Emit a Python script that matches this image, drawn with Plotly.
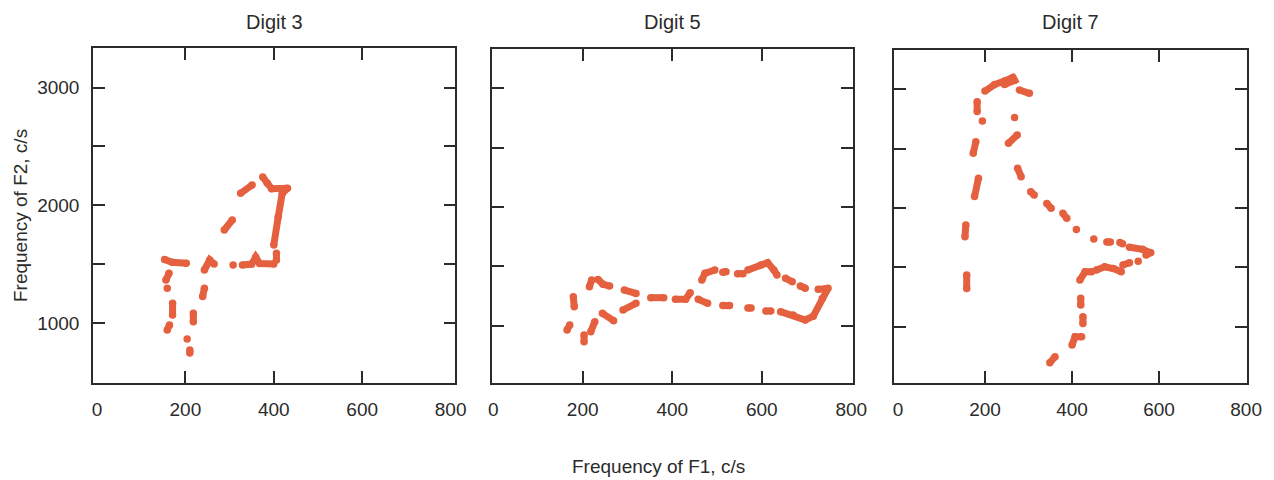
import plotly.graph_objects as go

# ---------------- data (F1, F2 in c/s); None separates the traced strokes ----------------
digit3_f1 = [375, 385, 395, 431, 419, 410, 400, None,
             406, 406, None,
             329, 350, 359, 368, 400, None,
             308, None,
             243, 255, 265, None,
             153, 170, 202, None,
             163, 156, None,
             159, None,
             171, 171, None,
             164, 159, None,
             243, 239, None,
             218, 218, None,
             204, None,
             210, 210, None,
             288, 306, None,
             325, 351]
digit3_f2 = [2240, 2190, 2140, 2144, 2100, 1900, 1663, None,
             1592, 1535, None,
             1493, 1500, 1560, 1505, 1500, None,
             1493, None,
             1450, 1535, 1501, None,
             1540, 1515, 1507, None,
             1422, 1365, None,
             1295, None,
             1167, 1068, None,
             983, 941, None,
             1295, 1224, None,
             1082, 1011, None,
             864, None,
             770, 745, None,
             1790, 1875, None,
             2102, 2172]

digit5_f1 = [165, 171, None,
             203, 203, None,
             179, 181, None,
             215, 220, None,
             234, 245, 260, None,
             218, 227, None,
             244, 269, None,
             290, 319, None,
             293, 319, None,
             352, 381, None,
             407, 430, 440, None,
             458, 479, None,
             513, 528, None,
             569, 576, None,
             609, 620, None,
             642, 670, 697, 715, 735, 748, 726, None,
             466, 473, 495, None,
             513, 520, None,
             546, 558, None,
             569, 598, 613, 627, 634, None,
             653, 668, None,
             686, 697]
digit5_f2 = [963, 1006, None,
             865, 921, None,
             1244, 1160, None,
             1329, 1385, None,
             1390, 1350, 1334, None,
             949, 1034, None,
             1104, 1042, None,
             1132, 1188, None,
             1300, 1272, None,
             1236, 1236, None,
             1222, 1222, 1278, None,
             1222, 1188, None,
             1169, 1169, None,
             1149, 1149, None,
             1124, 1124, None,
             1118, 1090, 1048, 1080, 1230, 1315, 1306, None,
             1385, 1441, 1469, None,
             1450, 1455, None,
             1438, 1438, None,
             1469, 1511, 1531, 1469, 1427, None,
             1399, 1371, None,
             1334, 1315]

digit7_f1 = [200, 222, 245, 264, 268, 245, None,
             279, 302, None,
             182, 182, None,
             194, None,
             268, None,
             254, 274, None,
             179, 173, None,
             185, 176, None,
             275, 283, None,
             305, 313, None,
             342, 352, None,
             379, 388, None,
             410, None,
             450, None,
             480, 488, None,
             510, 516, None,
             532, 562, 581, 570, None,
             552, None,
             517, 532, None,
             456, 475, 495, 513, None,
             418, 430, 445, None,
             420, 420, None,
             425, 425, None,
             400, 407, 422, None,
             349, 361, None,
             156, 154, None,
             158, 158]
digit7_f2 = [2985, 3040, 3070, 3100, 3075, 3040, None,
             2994, 2966, None,
             2896, 2812, None,
             2733, None,
             2762, None,
             2545, 2615, None,
             2559, 2461, None,
             2250, 2096, None,
             2334, 2264, None,
             2138, 2110, None,
             2039, 1997, None,
             1955, 1913, None,
             1820, None,
             1739, None,
             1713, 1713, None,
             1710, 1700, None,
             1669, 1652, 1624, 1604, None,
             1551, None,
             1520, 1539, None,
             1478, 1505, 1490, 1463, None,
             1393, 1463, 1463, None,
             1183, 1239, None,
             1084, 1028, None,
             846, 916, 916, None,
             697, 747, None,
             1857, 1758, None,
             1435, 1323]

panel_titles = ["Digit 3", "Digit 5", "Digit 7"]
x_tick_vals = [0, 200, 400, 600, 800]
x_tick_text = ["0", "200", "400", "600", "800"]
y_tick_vals = [1000, 1500, 2000, 2500, 3000]
y_tick_text = ["1000", "", "2000", "", "3000"]
x_title = "Frequency of F1, c/s"
y_title = "Frequency of F2, c/s"

# ---------------- figure ----------------
MARK = "#E5603F"
INK = "#2b2b2b"
FONT = "Liberation Sans, Arial, sans-serif"

fig = go.Figure()
series = [(digit3_f1, digit3_f2), (digit5_f1, digit5_f2), (digit7_f1, digit7_f2)]
for i, (fx, fy) in enumerate(series):
    sfx = "" if i == 0 else str(i + 1)
    fig.add_trace(go.Scatter(
        x=fx, y=fy, mode="lines+markers",
        line=dict(color=MARK, width=7),
        marker=dict(color=MARK, size=7.5),
        connectgaps=False, showlegend=False, hoverinfo="x+y",
        xaxis="x" + sfx, yaxis="y" + sfx))

x_domains = [[0.0, 0.3141], [0.346, 0.6583], [0.6945, 1.0]]
x_ranges = [[-9, 811], [-2, 803], [-8, 802]]
y_domains = [[0.0, 1.0], [0.0, 0.997], [0.0, 0.994]]
y_ranges = [[490, 3336], [517, 3331], [526, 3331]]

layout = dict(
    width=1274, height=480,
    margin=dict(l=93, r=19, t=48, b=97),
    paper_bgcolor="white", plot_bgcolor="white",
    font=dict(family=FONT, size=19, color=INK),
    showlegend=False,
)
for i in range(3):
    sfx = "" if i == 0 else str(i + 1)
    layout["xaxis" + sfx] = dict(
        domain=x_domains[i], range=x_ranges[i], anchor="y" + sfx,
        tickmode="array", tickvals=x_tick_vals, ticktext=x_tick_text,
        ticks="inside", ticklen=0, ticklabelstandoff=8,
        minor=dict(tickmode="array", tickvals=[200, 400, 600], ticks="inside",
                   ticklen=12, tickwidth=1.5, tickcolor=INK, showgrid=False),
        showline=True, linecolor=INK, linewidth=1.5, mirror="ticks",
        showgrid=False, zeroline=False,
        tickfont=dict(family=FONT, size=19, color=INK),
    )
    layout["yaxis" + sfx] = dict(
        domain=y_domains[i], range=y_ranges[i], anchor="x" + sfx,
        tickmode="array", tickvals=y_tick_vals, ticktext=y_tick_text,
        ticks="inside", ticklen=12, tickwidth=1.5, tickcolor=INK,
        showticklabels=(i == 0), ticklabelstandoff=8,
        showline=True, linecolor=INK, linewidth=1.5, mirror="ticks",
        showgrid=False, zeroline=False,
        tickfont=dict(family=FONT, size=19, color=INK),
    )
fig.update_layout(**layout)

annotations = []
for i, t in enumerate(panel_titles):
    d = x_domains[i]
    annotations.append(dict(text=t, x=(d[0] + d[1]) / 2, y=1.0776, xref="paper", yref="paper",
                            xanchor="center", yanchor="middle", showarrow=False,
                            font=dict(family=FONT, size=20, color=INK)))
annotations.append(dict(text=x_title, x=0.4897, y=-0.2478, xref="paper", yref="paper",
                        xanchor="center", yanchor="middle", showarrow=False,
                        font=dict(family=FONT, size=19, color=INK)))
annotations.append(dict(text=y_title, x=-0.0628, y=0.5, xref="paper", yref="paper",
                        xanchor="center", yanchor="middle", textangle=-90, showarrow=False,
                        font=dict(family=FONT, size=19, color=INK)))
fig.update_layout(annotations=annotations)

fig.write_html("out.html",
               config={"displayModeBar": False},
               post_script="document.body.style.margin='0';document.body.style.padding='0';"
                           "document.body.style.overflow='hidden';")
